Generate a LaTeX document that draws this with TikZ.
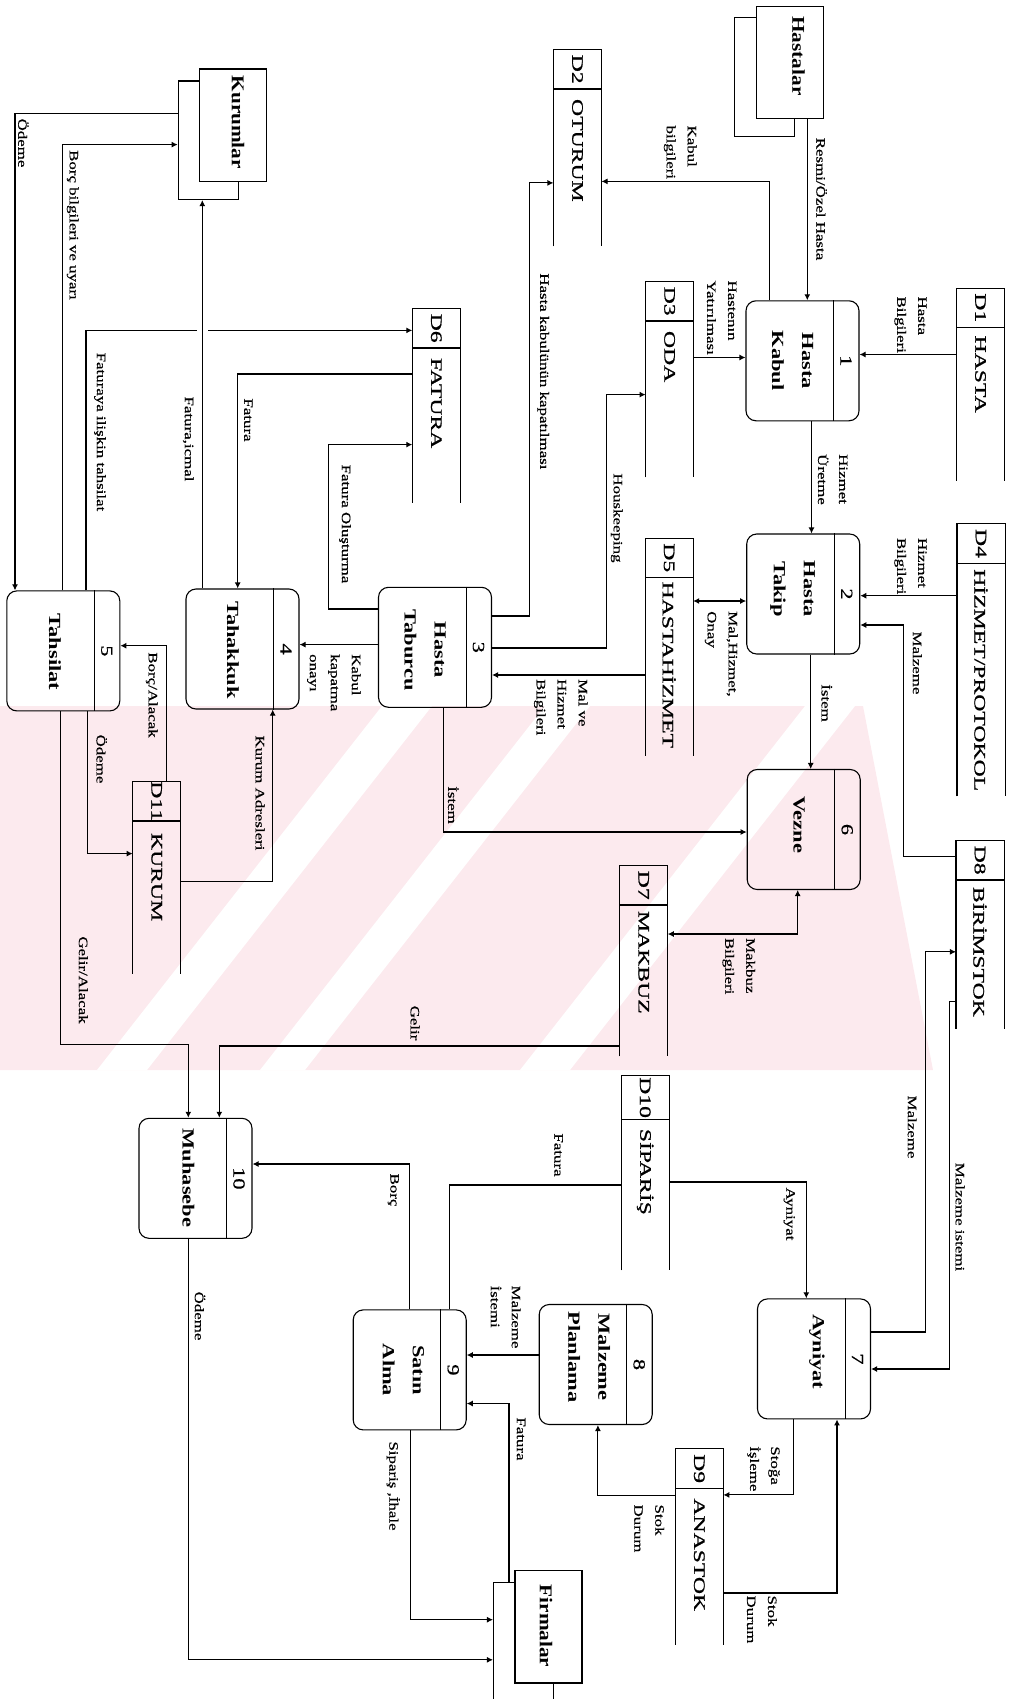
\documentclass[tikz,border=0pt]{standalone}
\usepackage{fontspec}
\setmainfont{Liberation Serif}[FakeStretch=1.32]
\newfontfamily\lblfam{Liberation Serif}[FakeStretch=1.32,FakeBold=0.5]
\newfontfamily\storefam{Liberation Serif}[FakeStretch=1.48,FakeBold=1]
\newfontfamily\extfam{Liberation Serif}[FakeStretch=1.18]
\usetikzlibrary{arrows.meta}
\definecolor{wmpink}{RGB}{252,234,238}
\newcommand\lblfont{\lblfam\fontsize{12.8}{21}\selectfont}
\newcommand\procfont{\bfseries\fontsize{17}{30}\selectfont}
\newcommand\pidfont{\lblfam\fontsize{17}{20}\selectfont}
\newcommand\storefont{\storefam\fontsize{16}{20}\selectfont}
\newcommand\extfont{\extfam\bfseries\fontsize{18}{22}\selectfont}

\begin{document}
\begin{tikzpicture}[x=1pt,y=-1pt,line width=1.1pt,>={Latex[length=6pt,width=6pt]}]
  \tikzstyle{proc}=[draw,rounded corners=10pt,minimum width=113pt,minimum height=120pt,inner sep=0pt]
  \tikzstyle{store}=[minimum width=47pt,inner sep=0pt]
  \tikzstyle{ent}=[draw,fill=white,minimum width=67pt,minimum height=112.5pt,inner sep=0pt]
  \tikzstyle{entback}=[draw,minimum width=60pt,minimum height=118.5pt,inner sep=0pt]
  \tikzstyle{lab}=[rotate=-90,inner sep=0pt,align=left,font=\lblfont]
  \tikzstyle{pname}=[rotate=-90,inner sep=0pt,align=center,font=\procfont]
  \tikzstyle{pid}=[rotate=-90,inner sep=0pt,font=\pidfont]
  \tikzstyle{sid}=[rotate=-90,inner sep=0pt,font=\storefont]
  \tikzstyle{sname}=[rotate=-90,inner sep=0pt,anchor=west,font=\storefont]
  \tikzstyle{ename}=[rotate=-90,inner sep=0pt,font=\extfont]

  \useasboundingbox (0,0) rectangle (1013,1699);

  % watermark
  \fill[wmpink] (0,706) -- (863,706) -- (933,1070) -- (0,1070) -- cycle;
  \fill[white] (97,1070) -- (147,1070) -- (432,706) -- (382,706) -- cycle;
  \fill[white] (260,1070) -- (305,1070) -- (590,706) -- (545,706) -- cycle;
  \fill[white] (520,1070) -- (570,1070) -- (855,706) -- (805,706) -- cycle;

  % external entities
  \node[entback] (hastB) at (764.7,77.2) {};
  \node[ent] (hast) at (789.7,62.7) {};
  \node[ename] (hastT) at (798.6,56) {Hastalar};
  \node[entback] (kurB) at (208.2,140.3) {};
  \node[ent] (kur) at (233.2,125.3) {};
  \node[ename] (kurT) at (238,122.3) {Kurumlar};
  \node[entback] (firB) at (523.5,1642) {};
  \node[ent] (fir) at (548.5,1626.7) {};
  \node[ename] (firT) at (546,1626) {Firmalar};

  % processes
  \node[proc] (p1) at (802.5,360.8) {};
  \node[proc] (p2) at (803.2,594) {};
  \node[proc] (p3) at (435,647.3) {};
  \node[proc] (p4) at (242.5,649) {};
  \node[proc] (p5) at (63.3,650.9) {};
  \node[proc] (p6) at (803.7,829.5) {};
  \node[proc] (p7) at (814,1358.9) {};
  \node[proc] (p8) at (595.7,1364.5) {};
  \node[proc] (p9) at (409.7,1369.9) {};
  \node[proc] (p10) at (195.5,1178.3) {};
  \foreach \p in {1,...,10}
    \draw ([xshift=-26pt]p\p.north east) -- ([xshift=-26pt]p\p.south east);

  \node[pid] (n1) at ([xshift=43.5pt]p1.center) {1};
  \node[pid] (n2) at ([xshift=43.5pt]p2.center) {2};
  \node[pid] (n3) at ([xshift=43.5pt]p3.center) {3};
  \node[pid] (n4) at ([xshift=43.5pt]p4.center) {4};
  \node[pid] (n5) at ([xshift=43.5pt]p5.center) {5};
  \node[pid] (n6) at ([xshift=43.5pt]p6.center) {6};
  \node[pid] (n7) at ([xshift=43.5pt]p7.center) {7};
  \node[pid] (n8) at ([xshift=43.5pt]p8.center) {8};
  \node[pid] (n9) at ([xshift=43.5pt]p9.center) {9};
  \node[pid] (n10) at ([xshift=43.5pt]p10.center) {10};

  \node[pname] (t1) at (792.6,360.7) {Hasta\\Kabul};
  \node[pname] (t2) at (792.6,589) {Hasta\\Takip};
  \node[pname] (t3) at (425,650) {Hasta\\Taburcu};
  \node[pname] (t4) at (233,650) {Tahakkuk};
  \node[pname] (t5) at (55,652) {Tahsilat};
  \node[pname] (t6) at (799,825) {Vezne};
  \node[pname] (t7) at (817,1352) {Ayniyat};
  \node[pname] (t8) at (589.3,1357) {Malzeme\\Planlama};
  \node[pname] (t9) at (403.3,1370) {Satın\\Alma};
  \node[pname] (t10) at (188.3,1178) {Muhasebe};

  % data stores
  \node[store,minimum height=191.8pt] (d1) at (980.5,384.5) {};
  \node[store,minimum height=195.7pt] (d2) at (577.5,147.9) {};
  \node[store,minimum height=194.8pt] (d3) at (669.6,379.4) {};
  \node[store,minimum height=271.4pt] (d4) at (981,660) {};
  \node[store,minimum height=216.4pt] (d5) at (669.1,646.8) {};
  \node[store,minimum height=193pt] (d6) at (436.3,405.5) {};
  \node[store,minimum height=189.7pt] (d7) at (643.7,960.9) {};
  \node[store,minimum height=187pt] (d8) at (980,934.5) {};
  \node[store,minimum height=194.6pt] (d9) at (699.3,1546.7) {};
  \node[store,minimum height=193.9pt] (d10) at (645.2,1172.8) {};
  \node[store,minimum height=191pt] (d11) at (156.7,877.5) {};
  \foreach \i/\c in {1/39.5pt,2/39.5pt,3/39.5pt,4/39.5pt,5/39.5pt,6/39.5pt,7/39.5pt,8/39.5pt,9/39.5pt,10/44.5pt,11/39.5pt}
    \draw (d\i.south west) -- (d\i.north west) -- (d\i.north east) -- (d\i.south east)
          ([yshift=-\c]d\i.north west) -- ([yshift=-\c]d\i.north east);

  \node[sid] (i1) at ([yshift=-19.75pt]d1.north) {D1};
  \node[sid] (i2) at ([yshift=-19.75pt]d2.north) {D2};
  \node[sid] (i3) at ([yshift=-19.75pt]d3.north) {D3};
  \node[sid] (i4) at ([yshift=-19.75pt]d4.north) {D4};
  \node[sid] (i5) at ([yshift=-19.75pt]d5.north) {D5};
  \node[sid] (i6) at ([yshift=-19.75pt]d6.north) {D6};
  \node[sid] (i7) at ([yshift=-19.75pt]d7.north) {D7};
  \node[sid] (i8) at ([yshift=-19.75pt]d8.north) {D8};
  \node[sid] (i9) at ([yshift=-19.75pt]d9.north) {D9};
  \node[sid] (i10) at ([yshift=-22.25pt]d10.north) {D10};
  \node[sid] (i11) at ([yshift=-19.75pt]d11.north) {D11};

  \node[sname] (s1) at ([yshift=-47pt]d1.north) {HASTA};
  \node[sname] (s2) at ([yshift=-49pt]d2.north) {OTURUM};
  \node[sname] (s3) at ([yshift=-49pt]d3.north) {ODA};
  \node[sname] (s4) at ([yshift=-45pt]d4.north) {HİZMET/PROTOKOL};
  \node[sname] (s5) at ([yshift=-43pt]d5.north) {HASTAHİZMET};
  \node[sname] (s6) at ([yshift=-49pt]d6.north) {FATURA};
  \node[sname] (s7) at ([yshift=-45pt]d7.north) {MAKBUZ};
  \node[sname] (s8) at ([yshift=-46pt]d8.north) {BİRİMSTOK};
  \node[sname] (s9) at ([yshift=-49pt]d9.north) {ANASTOK};
  \node[sname] (s10) at ([yshift=-53pt]d10.north) {SİPARİŞ};
  \node[sname] (s11) at ([yshift=-51pt]d11.north) {KURUM};

  % flows
  \coordinate (hopA) at (197,330.4);
  \coordinate (hopB) at (208,330.4);

  \draw[->] (hast.south -| 807.3,0) -- (p1.north -| 807.3,0);
  \draw[->] (p1.north -| 769.5,0) |- (d2.east |- 0,181.4);
  \draw[->] (d1.west |- 0,354.5) -- (p1.east |- 0,354.5);
  \draw[->] (d3.east |- 0,357.5) -- (p1.west |- 0,357.5);
  \draw[->] (p1.south -| 811.5,0) -- (p2.north -| 811.5,0);
  \draw[->] (d4.west |- 0,595.7) -- (p2.east |- 0,595.7);
  \draw[->] (d8.west |- 0,856.4) -| (903.6,625) -- (p2.east |- 0,625);
  \draw[<->] (d5.east |- 0,601) -- (p2.west |- 0,601);
  \draw[->] (p2.south -| 810.7,0) -- (p6.north -| 810.7,0);
  \draw[->] (p3.east |- 0,616) -| (529.5,182.9) -- (d2.west |- 0,182.9);
  \draw[->] (p3.east |- 0,648) -| (606.4,394.6) -- (d3.west |- 0,394.6);
  \draw[->] (d5.west |- 0,675) -- (p3.east |- 0,675);
  \draw[->] (p3.west |- 0,644.6) -- (p4.east |- 0,644.6);
  \draw[->] (p3.west |- 0,609) -| (328.3,444.6) -- (d6.west |- 0,444.6);
  \draw[->] (d6.west |- 0,374) -| (p4.north -| 237.7,0);
  \draw[->] (p4.north -| 202.3,0) -- (kurB.south -| 202.3,0);
  \draw (p5.north -| 86,0) |- (hopA);
  \draw[->] (hopB) -- (d6.west |- hopB);
  \draw[->] (p5.north -| 62.3,0) |- (kurB.west |- 0,144.6);
  \draw[->] (kurB.west |- 0,113.6) -| (p5.north -| 15,0);
  \draw[->] (d11.north -| 166.7,0) |- (p5.east |- 0,645.7);
  \draw[->] (p5.south -| 87.3,0) |- (d11.west |- 0,853.6);
  \draw[->] (d11.east |- 0,881.4) -| (p4.south -| 272.7,0);
  \draw[->] (p5.south -| 60.7,0) |- (188.3,1044.6) -- (p10.north -| 188.3,0);
  \draw[->] (d7.west |- 0,1046) -| (p10.north -| 219.3,0);
  \draw[->] (p3.south -| 443.3,0) |- (p6.west |- 0,832);
  \draw[<->] (p6.south -| 797.7,0) |- (d7.east |- 0,934);
  \draw[->] (p7.east |- 0,1332) -| (925.8,951.8) -- (d8.west |- 0,951.8);
  \draw[->] (d8.west |- 0,1001.5) -| (949.8,1369) -- (p7.east |- 0,1369);
  \draw[->] (d10.east |- 0,1182) -| (p7.north -| 806.3,0);
  \draw (d10.west |- 0,1185) -| (p9.north -| 449.3,0);
  \draw[->] (p9.north -| 409.3,0) |- (p10.east |- 0,1164);
  \draw[->] (p8.west |- 0,1355) -- (p9.east |- 0,1355);
  \draw[->] (firB.north -| 509,0) |- (p9.east |- 0,1403.5);
  \draw[->] (p9.south -| 410.7,0) |- (firB.west |- 0,1619.7);
  \draw[->] (p10.south -| 188.3,0) |- (firB.west |- 0,1659.8);
  \draw[->] (p7.south -| 793.6,0) |- (d9.east |- 0,1494.9);
  \draw[->] (d9.east |- 0,1593) -| (p7.south -| 837,0);
  \draw[->] (d9.west |- 0,1495.8) -| (p8.south -| 597.9,0);

  % flow labels
  \node[lab] (l1) at (821.6,199) {Resmi/Özel Hasta};
  \node[lab,anchor=west] (l2) at (680.2,125) {Kabul\\bilgileri};
  \node[lab] (l3) at (543.2,371.4) {Hasta kabulünün kapatılması};
  \node[lab,anchor=west] (l4) at (910.5,296) {Hasta\\Bilgileri};
  \node[lab,anchor=west] (l5) at (721.7,280) {Hastenın\\Yatırılması};
  \node[lab,anchor=west] (l6) at (832.7,453.6) {Hizmet\\Üretme};
  \node[lab] (l7) at (616.7,518) {Houskeeping};
  \node[lab,anchor=west] (l8) at (910.5,537.5) {Hizmet\\Bilgileri};
  \node[lab] (l9) at (917.3,663) {Malzeme};
  \node[lab,anchor=west] (l10) at (721.2,610.7) {Mal,Hizmet,\\Onay};
  \node[lab,anchor=west] (l11) at (560.8,678.6) {Mal ve\\Hizmet\\Bilgileri};
  \node[lab] (l12) at (826.8,703) {İstem};
  \node[lab,anchor=west] (l13) at (333.9,653.6) {Kabul\\kapatma\\onayı};
  \node[lab] (l14) at (345,524) {Fatura Oluşturma};
  \node[lab] (l15) at (248.3,420) {Fatura};
  \node[lab] (l16) at (188.3,439) {Fatura,icmal};
  \node[lab] (l17) at (100,432) {Faturaya ilişkin tahsilat};
  \node[lab] (l18) at (72.7,225) {Borç bilgileri ve uyarı};
  \node[lab] (l19) at (23.3,143) {Ödeme};
  \node[lab] (l20) at (151.7,695) {Borç/Alacak};
  \node[lab] (l21) at (101.7,759) {Ödeme};
  \node[lab] (l22) at (260,793) {Kurum Adresleri};
  \node[lab] (l23) at (83.3,980) {Gelir/Alacak};
  \node[lab] (l24) at (453.3,805) {İstem};
  \node[lab] (l25) at (415,1023) {Gelir};
  \node[lab,anchor=west] (l26) at (738.8,937.5) {Makbuz\\Bilgileri};
  \node[lab] (l27) at (912.2,1127) {Malzeme};
  \node[lab] (l28) at (960,1217) {Malzeme istemi};
  \node[lab] (l29) at (789.2,1214) {Ayniyat};
  \node[lab] (l30) at (558.6,1155) {Fatura};
  \node[lab] (l31) at (393.3,1190) {Borç};
  \node[lab,anchor=west] (l32) at (505.7,1285) {Malzeme\\İstemi};
  \node[lab] (l33) at (521,1439) {Fatura};
  \node[lab] (l34) at (393.3,1486) {Sipariş ,İhale};
  \node[lab] (l35) at (200,1316) {Ödeme};
  \node[lab,anchor=west] (l36) at (763.6,1445.8) {Stoğa\\İşleme};
  \node[lab,anchor=west] (l37) at (761.9,1595) {Stok\\Durum};
  \node[lab,anchor=west] (l38) at (649.2,1504) {Stok\\Durum};
\end{tikzpicture}
\end{document}
